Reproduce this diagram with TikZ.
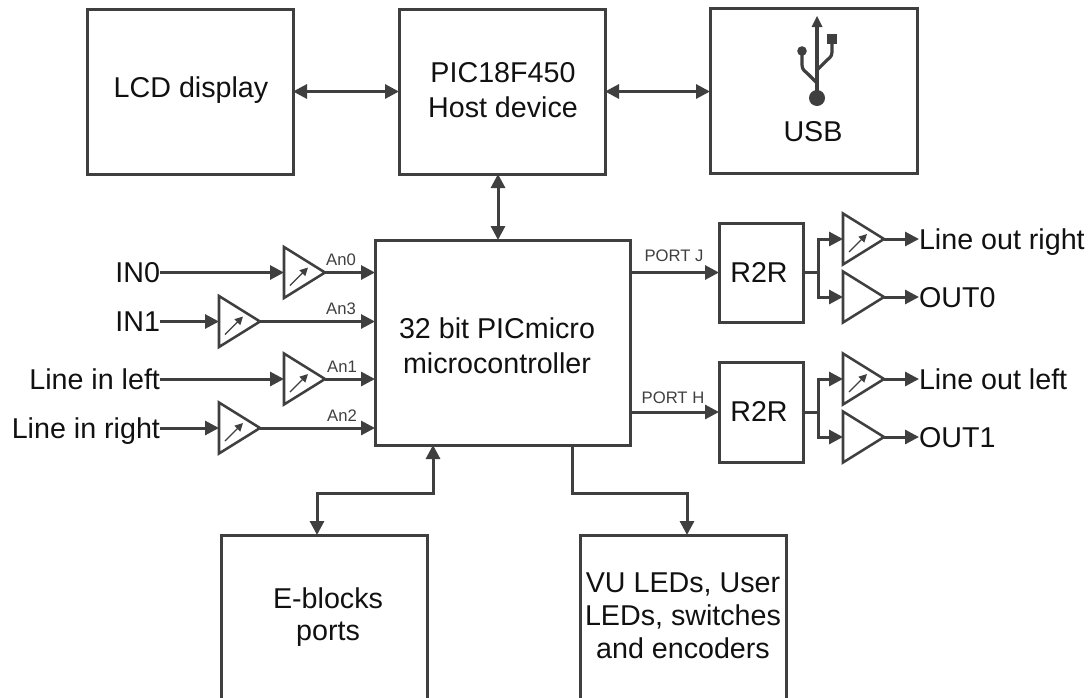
\documentclass[tikz,border=0pt]{standalone}
\usepackage{fontspec}
\setmainfont{Liberation Sans}
\usetikzlibrary{arrows.meta,fit,shapes.geometric,calc}
\definecolor{ln}{HTML}{3F3F3F}
\definecolor{tx}{HTML}{111111}
\tikzset{
  boxn/.style={draw=ln,line width=2.25pt,inner sep=0pt,outer sep=0pt},
  amp/.style={draw=ln,line width=1.9pt,isosceles triangle,isosceles triangle stretches,shape border rotate=0,minimum height=41*0.75pt,minimum width=51*0.75pt,inner sep=0pt,outer sep=0pt,anchor=lower side},
  big/.style={font=\fontsize{21.5}{24.6}\selectfont,text=tx,inner sep=0pt,outer sep=0pt,align=center},
  wide/.style={big,font=\fontsize{21.5}{26}\selectfont},
  sig/.style={big,text height=15.5pt,text depth=0pt},
  small/.style={font=\fontsize{12.5}{15}\selectfont,text=ln,inner sep=0pt},
  wire/.style={draw=ln,line width=2.25pt},
  one/.style={wire,-{Triangle[length=10.5pt,width=10.5pt,fill=ln]}},
  two/.style={wire,{Triangle[length=10.5pt,width=10.5pt,fill=ln]}-{Triangle[length=10.5pt,width=10.5pt,fill=ln]}},
  gain/.style={draw=ln,line width=1pt,-{Triangle[length=6pt,width=6pt,fill=ln]}}
}
\newcommand{\gainmark}[1]{\draw[gain] ($(#1.lower side)+(6,13)$) -- ($(#1.lower side)+(24,-5)$);}
\begin{document}
\begin{tikzpicture}[x=0.75pt,y=-0.75pt]
\useasboundingbox (0,0) rectangle (1092,697);
\clip (0,0) rectangle (1092,697);
% boxes
\node[boxn,fit={(87,9)(293,174)}] (lcd) {};
\node[big] (lcdtxt) at (191,90) {LCD display};
\node[boxn,fit={(399,9)(605,174)}] (host) {};
\node[wide] (hosttxt) at (503,90) {PIC18F450\\Host device};
\node[boxn,fit={(710,8)(917,173)}] (usb) {};
\node[big] (usbtxt) at (813,132) {USB};
\node[boxn,fit={(375,240)(630,445)}] (mcu) {};
\node[wide] (mcutxt) at (497,346) {32 bit PICmicro\\microcontroller};
\node[boxn,fit={(719,223)(803,322)}] (ra) {};
\node[big] (ratxt) at (759,272) {R2R};
\node[boxn,fit={(719,362)(803,462)}] (rb) {};
\node[big] (rbtxt) at (759,411) {R2R};
\node[boxn,fit={(221,535)(427,720)}] (eb) {};
\node[big] (ebtxt) at (328,617) {E-blocks\\ports};
\node[boxn,fit={(580,535)(786,720)}] (vu) {};
\node[big] (vutxt) at (683,616) {VU LEDs, User\\LEDs, switches\\and encoders};
% top connectors
\draw[two] (lcd.east) -- (lcd.east -| host.west);
\draw[two] (host.east) -- (host.east -| usb.west);
\coordinate (hm) at (498,200);
\draw[two] (hm |- host.south) -- (hm |- mcu.north);
% input amps
\node[amp] (a0) at (284,272.5) {};
\node[amp] (a1) at (219,321.5) {};
\node[amp] (a2) at (284,379) {};
\node[amp] (a3) at (219,428) {};
\gainmark{a0}\gainmark{a1}\gainmark{a2}\gainmark{a3}
\node[sig,anchor=east] (in0) at (160,272.5) {IN0};
\node[sig,anchor=east] (in1) at (160,321.5) {IN1};
\node[sig,anchor=east] (in2) at (160,379) {Line in left};
\node[sig,anchor=east] (in3) at (160,428) {Line in right};
\foreach \k in {0,1,2,3}{
  \draw[one] (in\k.east) -- (a\k.lower side);
  \draw[one] (a\k.apex) -- (a\k.apex -| mcu.west);
}
\node[small] (l0) at (341,260) {An0};
\node[small] (l3) at (341,309) {An3};
\node[small] (l1) at (342,367) {An1};
\node[small] (l2) at (342,416) {An2};
% outputs
\draw[one] (mcu.east |- ra.west) -- (ra.west);
\draw[one] (mcu.east |- rb.west) -- (rb.west);
\node[small] (pj) at (674,256) {PORT J};
\node[small] (ph) at (673,398) {PORT H};
\node[amp] (o0) at (843,239) {};
\node[amp] (o1) at (843,297) {};
\node[amp] (o2) at (843,379) {};
\node[amp] (o3) at (843,437) {};
\gainmark{o0}\gainmark{o2}
\coordinate (ba) at (818,272.5);
\coordinate (bb) at (818,412);
\draw[wire] (ra.east) -- (ba);
\draw[wire] (rb.east) -- (bb);
\draw[one] (ba) |- (o0.lower side);
\draw[one] (ba) |- (o1.lower side);
\draw[one] (bb) |- (o2.lower side);
\draw[one] (bb) |- (o3.lower side);
\node[sig,anchor=west] (t0) at (919,239) {Line out right};
\node[sig,anchor=west] (t1) at (919,297) {OUT0};
\node[sig,anchor=west] (t2) at (919,379) {Line out left};
\node[sig,anchor=west] (t3) at (919,437) {OUT1};
\foreach \k in {0,1,2,3}{\draw[one] (o\k.apex) -- (t\k.west);}
% bottom
\coordinate (ea) at (433,493);
\coordinate (eb2) at (317,493);
\coordinate (va) at (572,493);
\coordinate (vb) at (687,493);
\draw[two] (ea |- mcu.south) -- (ea) -- (eb2) -- (eb2 |- eb.north);
\draw[one] (va |- mcu.south) -- (va) -- (vb) -- (vb |- vu.north);
% USB symbol
\draw[ln,line width=2.4pt] (817,98) -- (817,25);
\fill[ln] (817,16) -- (822.5,27) -- (811.5,27) -- cycle;
\fill[ln] (817,98) circle[radius=8];
\fill[ln] (802,51) circle[radius=4.8];
\fill[ln] (827,34) rectangle (837,44);
\draw[ln,line width=2.4pt,line join=round] (802,51) -- (802,65) .. controls (802,70) and (805,71) .. (808,74) -- (817,83);
\draw[ln,line width=2.4pt,line join=round] (832,44) -- (832,52) .. controls (832,57) and (829,58) .. (826,61) -- (817,70);
\end{tikzpicture}
\end{document}
